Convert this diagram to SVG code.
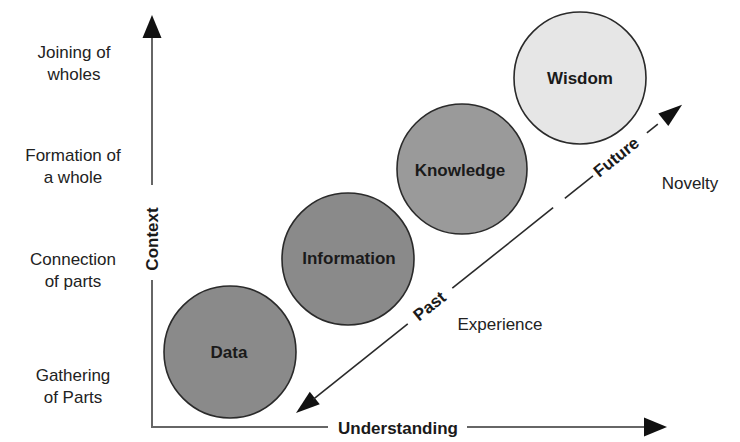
<svg xmlns="http://www.w3.org/2000/svg" width="740" height="442" viewBox="0 0 740 442">
<style>
text{font-family:"Liberation Sans",Arial,sans-serif;font-size:17px;fill:#222}
.lbl{text-anchor:middle}
.b{font-weight:bold;text-anchor:middle;dominant-baseline:central;fill:#1a1a1a}
.node{stroke:#2a2a2a;stroke-width:1.6}
.axis{stroke:#666;stroke-width:2;fill:none}
.diag{stroke:#2a2a2a;stroke-width:1.6;fill:none}
</style>
<rect width="740" height="442" fill="#fff"/>
<g id="labels">
<text class="lbl" x="74" y="58">Joining of</text>
<text class="lbl" x="74" y="80">wholes</text>
<text class="lbl" x="73" y="161">Formation of</text>
<text class="lbl" x="73" y="183">a whole</text>
<text class="lbl" x="73" y="265">Connection</text>
<text class="lbl" x="73" y="287">of parts</text>
<text class="lbl" x="73" y="381">Gathering</text>
<text class="lbl" x="73" y="403">of Parts</text>
<text class="lbl" x="500" y="330">Experience</text>
<text class="lbl" x="690" y="189">Novelty</text>
</g>
<g id="connectors">
<g id="axis-context">
<line class="axis" x1="152" y1="35" x2="152" y2="185"/>
<line class="axis" x1="152" y1="280" x2="152" y2="428"/>
<polygon points="152,15 142.5,38 161.5,38" fill="#111"/>
<text class="b" transform="translate(152,239) rotate(-90)">Context</text>
</g>
<g id="axis-understanding">
<line class="axis" x1="151" y1="427" x2="328" y2="427"/>
<line class="axis" x1="467" y1="427" x2="648" y2="427"/>
<polygon points="667,427 644,417.5 644,436.5" fill="#111"/>
<text class="b" x="398" y="428">Understanding</text>
</g>
<g id="time-arrow" transform="translate(296,413) rotate(-38.6)">
<polygon points="0,0 24,-8 24,8" fill="#111"/>
<line class="diag" x1="22" y1="0" x2="143" y2="0"/>
<line class="diag" x1="200" y1="0" x2="329" y2="0"/>
<line class="diag" x1="344" y1="0" x2="380" y2="0"/>
<line class="diag" x1="449" y1="0" x2="463" y2="0"/>
<polygon points="494,0 470,-8 470,8" fill="#111"/>
<text class="b" x="171" y="0">Past</text>
<text class="b" x="410" y="0">Future</text>
</g>
</g>
<g id="data">
<circle class="node" cx="230" cy="352" r="66" fill="#8a8a8a"/>
<text class="b" x="229" y="352">Data</text>
</g>
<g id="information">
<circle class="node" cx="348" cy="259" r="66" fill="#8a8a8a"/>
<text class="b" x="349" y="258">Information</text>
</g>
<g id="knowledge">
<circle class="node" cx="462" cy="169" r="65" fill="#9a9a9a"/>
<text class="b" x="460" y="170">Knowledge</text>
</g>
<g id="wisdom">
<circle class="node" cx="580" cy="78" r="66" fill="#e6e6e6"/>
<text class="b" x="580" y="78">Wisdom</text>
</g>
</svg>
